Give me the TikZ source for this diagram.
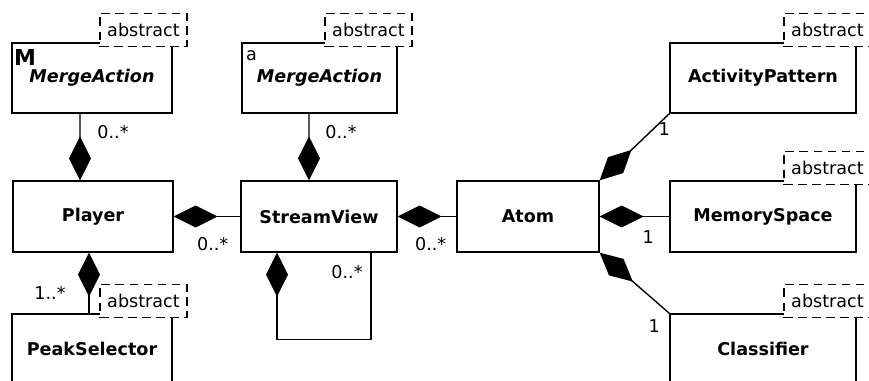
\documentclass[tikz,border=0pt]{standalone}
\usepackage{fontspec}
\setmainfont{DejaVu Sans}
\usetikzlibrary{arrows.meta}

\begin{document}
\begin{tikzpicture}
    [x=0.02cm,y=-0.02cm,line width=0.8pt,font=\fontsize{10}{12}\selectfont,
     umlclass/.style={rectangle,draw,fill=white,minimum height=1.4cm,font=\fontsize{10}{12}\selectfont\bfseries},
     abstag/.style={rectangle,draw,fill=white,dash pattern=on 5pt off 3pt,minimum width=1.74cm,minimum height=0.66cm,inner sep=0pt,anchor=south east},
     comp/.style={{Diamond[length=0.88cm,width=0.44cm]}-},
     mult/.style={inner sep=0pt}]

    \useasboundingbox (0,0) rectangle (869,380);

% top row
\node[umlclass,minimum width=3.2cm] (ma1) at (92,78) {\itshape MergeAction};
\node[umlclass,minimum width=3.1cm] (ma2) at (319.5,78) {\itshape MergeAction};
\node[umlclass,minimum width=3.72cm] (act) at (763,78) {ActivityPattern};

% middle row
\node[umlclass,minimum width=3.2cm,minimum height=1.42cm] (player) at (93,216.5) {Player};
\node[umlclass,minimum width=3.12cm,minimum height=1.42cm] (sv) at (319,216.5) {StreamView};
\node[umlclass,minimum width=2.84cm,minimum height=1.42cm] (atom) at (528,216.5) {Atom};
\node[umlclass,minimum width=3.72cm,minimum height=1.42cm] (mem) at (763,216.5) {MemorySpace};

% bottom row
\node[umlclass,minimum width=3.2cm] (peak) at (92,349) {PeakSelector};
\node[umlclass,minimum width=3.72cm] (cls) at (763,349) {Classifier};

\foreach \c in {ma1,ma2,act,mem,peak,cls}
    \node[abstag] (\c tag) at ([shift={(15,5)}]\c.north east) {abstract};

\node[anchor=north west,inner sep=0pt,font=\fontsize{12.5}{13}\selectfont\bfseries] (mmark) at ([shift={(2,6)}]ma1.north west) {M};
\node[anchor=north west,inner sep=0pt] (amark) at ([shift={(4,8)}]ma2.north west) {a};

% compositions
\draw[comp] ([xshift=-0.26cm]player.north) -- ([xshift=-0.24cm]ma1.south)
    node[mult,at end,xshift=0.66cm,yshift=-0.36cm] (m1) {0..*};
\draw[comp] ([xshift=-0.2cm]sv.north) -- ([xshift=-0.21cm]ma2.south)
    node[mult,at end,xshift=0.64cm,yshift=-0.36cm] (m2) {0..*};
\draw[comp] (player.east) -- (sv.west)
    node[mult,at start,xshift=0.78cm,yshift=-0.56cm] (m3) {0..*};
\draw[comp] (sv.east) -- (atom.west)
    node[mult,at start,xshift=0.66cm,yshift=-0.56cm] (m4) {0..*};
\draw[comp] (atom.east) -- (mem.west)
    node[mult,at end,xshift=-0.42cm,yshift=-0.42cm] (m5) {1};
\draw[comp] (atom.north east) -- (act.south west)
    node[mult,at end,xshift=-0.1cm,yshift=-0.3cm] (m6) {1};
\draw[comp] (atom.south east) -- (cls.north west)
    node[mult,at end,xshift=-0.3cm,yshift=-0.26cm] (m7) {1};
\draw[comp] ([xshift=-0.08cm]player.south) -- ([xshift=-0.06cm]peak.north)
    node[mult,at end,xshift=-0.78cm,yshift=0.4cm] (m8) {1..*};
\draw[comp] ([xshift=-0.84cm]sv.south) -- ++(0,87) -| ([xshift=1.04cm]sv.south)
    node[mult,at end,xshift=-0.48cm,yshift=-0.38cm] (m9) {0..*};

  \end{tikzpicture}
\end{document}
